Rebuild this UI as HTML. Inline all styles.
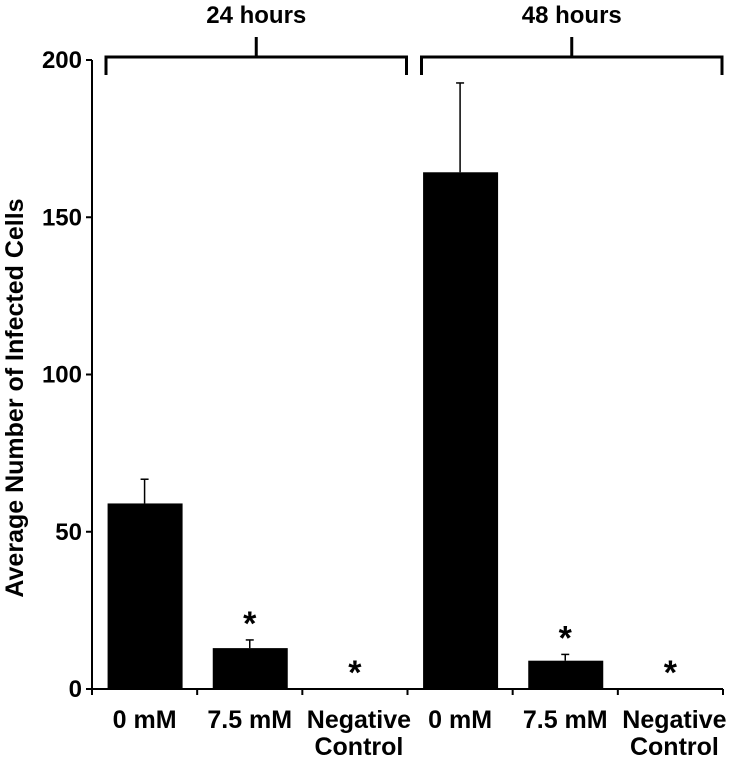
<!DOCTYPE html>
<html><head><meta charset="utf-8"><style>body{margin:0;background:#fff}svg{font-family:"Liberation Sans",Arial,sans-serif;font-weight:bold}</style></head>
<body>
<svg id="c" width="737" height="760" xmlns="http://www.w3.org/2000/svg"></svg>
<script>
const categories=["0 mM","7.5 mM","Negative|Control","0 mM","7.5 mM","Negative|Control"];
const values=[59,13,0,164.3,9,0];
const errors=[7.7,2.6,0,28.4,2,0];
const significant=[false,true,true,false,true,true];
const yTicks=[0,50,100,150,200];
const groups=["24 hours","48 hours"];
const svg=document.getElementById('c');
const NS="http://www.w3.org/2000/svg";
const x0=92,x1=723,y0=689,y1=60;
const bw=(x1-x0)/categories.length;
const Y=v=>y0-(v/200)*(y0-y1);
function mk(t,a,p){const e=document.createElementNS(NS,t);for(const k in a)e.setAttribute(k,a[k]);(p||svg).appendChild(e);return e;}
let ax=mk('line',{x1:x0,y1:y1,x2:x0,y2:y0,stroke:'#000','stroke-width':2});


let xx=mk('line',{x1:x0,y1:y0,x2:x1,y2:y0,stroke:'#000','stroke-width':2});


yTicks.forEach(v=>{
 mk('line',{x1:x0-6,y1:Y(v),x2:x0,y2:Y(v),stroke:'#000','stroke-width':2});
 let t=mk('text',{x:x0-10,y:Y(v)+8,'text-anchor':'end','font-size':24});t.textContent=v;
 
 
});
for(let i=0;i<=categories.length;i++)mk('line',{x1:x0+i*bw,y1:y0,x2:x0+i*bw,y2:y0+6,stroke:'#000','stroke-width':2});
categories.forEach((c,i)=>{
 const cx=x0+(i+0.5)*bw, v=values[i];
 if(v>0){
  const r=mk('rect',{x:cx-37,y:Y(v),width:75,height:y0-Y(v),fill:'#000'});
  
  
 }
 if(errors[i]>0){
  mk('line',{x1:cx,y1:Y(v),x2:cx,y2:Y(v+errors[i]),stroke:'#000','stroke-width':1.5});
  mk('line',{x1:cx-4,y1:Y(v+errors[i]),x2:cx+4,y2:Y(v+errors[i]),stroke:'#000','stroke-width':1.5});
 }
 if(significant[i]){
  const s=mk('text',{x:cx,y:Y(v+errors[i])-5,'text-anchor':'middle','font-size':34});s.textContent='*';
  
  
 }
 const parts=c.split('|');
 parts.forEach((p,j)=>{
  const t=mk('text',{x:cx+(parts.length>1?4:0),y:728+j*27,'text-anchor':'middle','font-size':25});t.textContent=p;
  
  
 });
});
groups.forEach((g,k)=>{
 const a=x0+k*3*bw+14,b=x0+(k+1)*3*bw-1,m=(a+b)/2;
 const br=mk('path',{d:`M${a},75V57H${b}V75M${m},57V37`,fill:'none',stroke:'#000','stroke-width':3});
 
 
 const t=mk('text',{x:m,y:23,'text-anchor':'middle','font-size':24});t.textContent=g;
 
 
});
const yt=mk('text',{x:0,y:0,transform:'translate(23,398) rotate(-90)','text-anchor':'middle','font-size':25});
yt.textContent='Average Number of Infected Cells';


</script>
</body></html>
